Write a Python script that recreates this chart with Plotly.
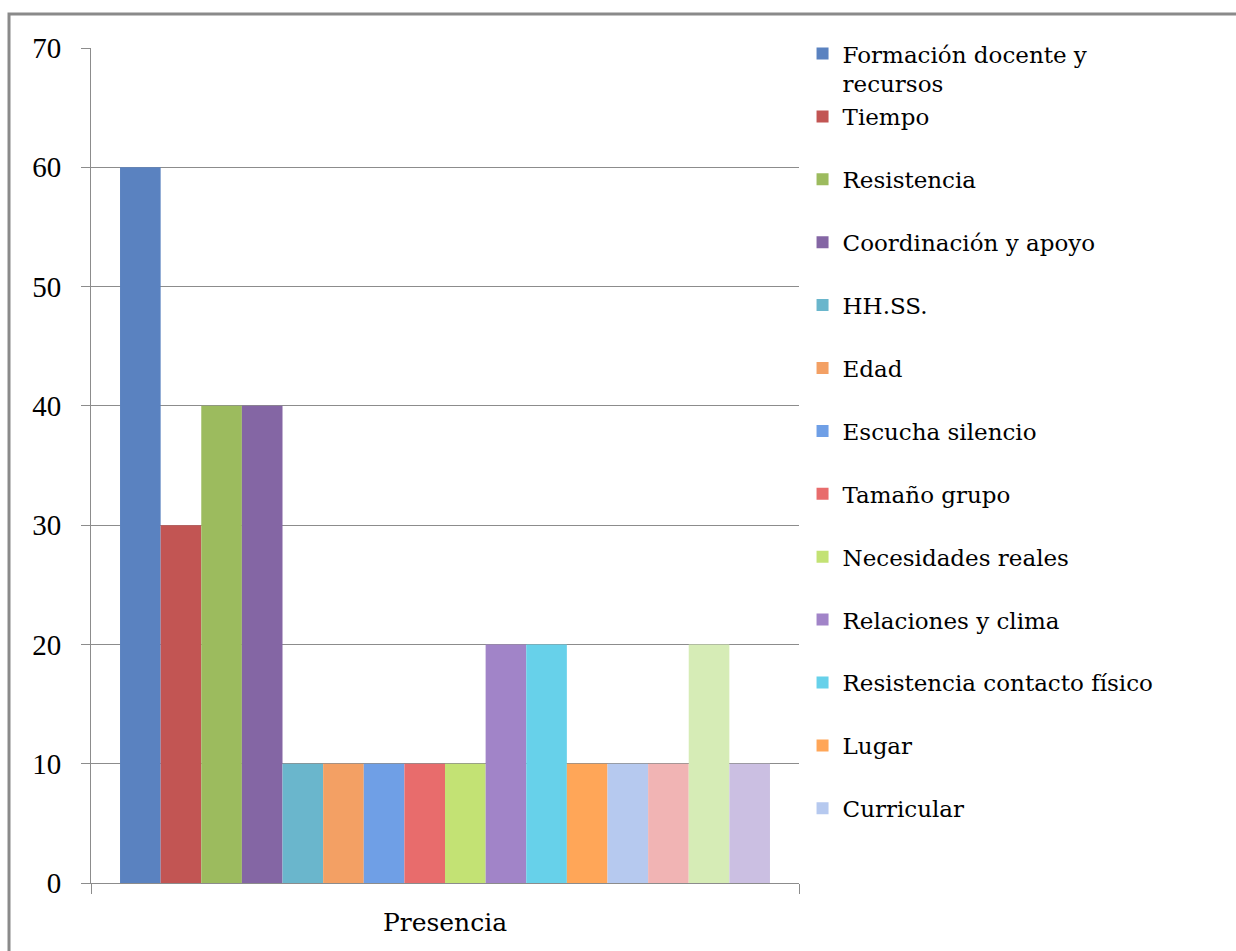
import plotly.graph_objects as go

category = ["Presencia"]
series_names = [
    "Formación docente y<br>recursos", "Tiempo", "Resistencia", "Coordinación y apoyo",
    "HH.SS.", "Edad", "Escucha silencio", "Tamaño grupo", "Necesidades reales",
    "Relaciones y clima", "Resistencia contacto físico", "Lugar", "Curricular",
    "Serie 14", "Serie 15", "Serie 16",
]
series_values = [60, 30, 40, 40, 10, 10, 10, 10, 10, 20, 20, 10, 10, 10, 20, 10]
series_colors = [
    "#5a82c0", "#c25553", "#9cbb5e", "#8466a4", "#6ab6cc", "#f3a064",
    "#6f9fe6", "#e86c6c", "#c3e274", "#a184c8", "#67d1ea", "#ffa658",
    "#b6c9ef", "#f1b4b4", "#d6ecb6", "#cbbfe2",
]
shown_in_legend = [True] * 13 + [False] * 3
# legend grouping: first two entries share a block (the wrapped label overflows onto the next)
legend_groups = ["g0", "g0"] + [f"g{i}" for i in range(2, 16)]

FONT = "DejaVu Serif"
TICKFONT = "Liberation Serif"

fig = go.Figure()
for name, val, col, show, grp in zip(series_names, series_values, series_colors, shown_in_legend, legend_groups):
    fig.add_trace(go.Bar(
        x=category, y=[val], name=name,
        marker=dict(color=col, line=dict(width=0)),
        showlegend=show, legendgroup=grp,
    ))

fig.update_layout(
    width=1236, height=951,
    margin=dict(l=91, r=437, t=48, b=68),
    paper_bgcolor="white", plot_bgcolor="white",
    barmode="group", bargap=0.082, bargroupgap=0,
    font=dict(family=FONT, color="black"),
    legend=dict(
        x=1.005, xanchor="left", y=1.019, yanchor="top",
        font=dict(family=FONT, size=23, color="black"),
        tracegroupgap=30, valign="top", maxheight=940, groupclick="toggleitem",
        bgcolor="rgba(0,0,0,0)", itemsizing="constant",
    ),
    xaxis=dict(
        showgrid=False, showline=True, linecolor="#8c8c8c", linewidth=1,
        ticks="outside", tickson="boundaries", ticklen=10, tickcolor="#8c8c8c",
        tickfont=dict(family=FONT, size=25, color="black"),
        ticklabelstandoff=17,
    ),
    yaxis=dict(
        range=[0, 70], dtick=10, showgrid=True, gridcolor="#8c8c8c", gridwidth=1,
        showline=True, linecolor="#8c8c8c", linewidth=1,
        ticks="outside", ticklen=9, tickcolor="#8c8c8c",
        tickfont=dict(family=TICKFONT, size=29, color="black"),
        ticklabelstandoff=14, zeroline=False,
    ),
    shapes=[dict(
        type="rect", xref="paper", yref="paper",
        x0=-0.1158, x1=2.0, y0=-1.0, y1=1.0407,
        line=dict(color="#8a8a8a", width=3), fillcolor="rgba(0,0,0,0)", layer="below",
    )],
)

fig.write_html("out.html")
